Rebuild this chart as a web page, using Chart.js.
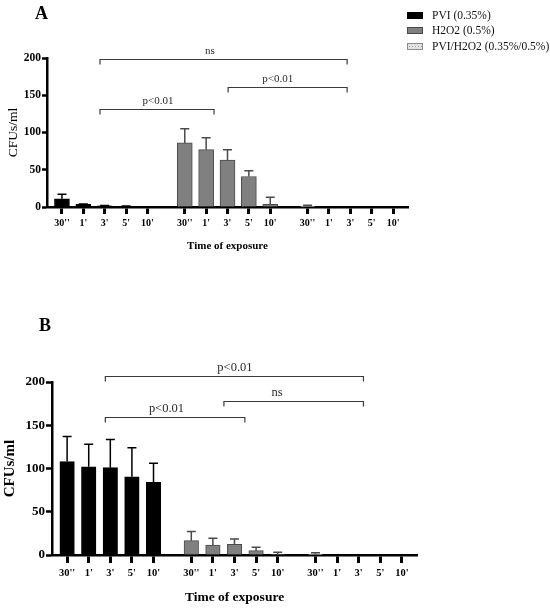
<!DOCTYPE html>
<html>
<head>
<meta charset="utf-8">
<script src="https://cdn.jsdelivr.net/npm/chart.js@4.4.1/dist/chart.umd.min.js"></script>
<style>
  html, body { margin: 0; padding: 0; background: #fff; }
  #wrap { position: relative; width: 550px; height: 611px; font-family: 'Liberation Serif', serif; }
  .panel { position: absolute; left: 0; width: 550px; }
  #boxA { top: 0; height: 260px; }
  #boxB { top: 300px; height: 311px; }
  .tag { position: absolute; font-weight: bold; font-size: 18px; line-height: 20px; }
</style>
</head>
<body>
<div id="wrap">
  <div class="panel" id="boxA"><canvas id="chartA" width="550" height="260"></canvas></div>
  <div class="panel" id="boxB"><canvas id="chartB" width="550" height="311"></canvas></div>
  <div class="tag" style="left:35px; top:3px">A</div>
  <div class="tag" style="left:39px; top:315px">B</div>
</div>
<script>
// categories
const timeLabels = ["30''", "1'", "3'", "5'", "10'"];
const seriesNames = ['PVI (0.35%)', 'H2O2 (0.5%)', 'PVI/H2O2 (0.35%/0.5%)'];

// panel A values (mean and upper SD)
const pviA = [11, 3.5, 1.5, 1, 0.3];
const pviSdA = [6, 0.5, 0.5, 0.5, 0];
const h2o2A = [86, 77, 63, 41, 3.5];
const h2o2SdA = [19, 16, 14, 7.5, 9.5];
const comboA = [0.8, 0, 0, 0, 0];
const comboSdA = [1.5, 0, 0, 0, 0];

// panel B values
const pviB = [108, 102, 101, 90.5, 84];
const pviSdB = [29, 26, 32.5, 33.5, 22];
const h2o2B = [16.6, 11.6, 12.3, 5, 0.5];
const h2o2SdB = [10.5, 7.7, 6.2, 3.9, 2.6];
const comboB = [1, 0, 0, 0, 0];
const comboSdB = [1.5, 0, 0, 0, 0];

// significance brackets, in x-axis units (bar index) and y values
const bracketFromA = [1.78, 7.78, 1.78];
const bracketToA = [13.35, 13.35, 7.12];
const bracketLevelA = [198, 161, 131];
const bracketTextA = ['ns', 'p<0.01', 'p<0.01'];
const bracketTextXA = [6.93, 10.1, 4.5];

const bracketFromB = [1.77, 7.26, 1.77];
const bracketToB = [13.72, 13.72, 8.23];
const bracketLevelB = [207, 178, 160];
const bracketTextB = ['p<0.01', 'ns', 'p<0.01'];
const bracketTextXB = [7.77, 9.72, 4.6];

const groupStep = 5.75;
const barPos = (g, i) => g * groupStep + i;
const tickPos = [0, 1, 2].flatMap(g => timeLabels.map((_, i) => barPos(g, i)));

const FONT = "'Liberation Serif', serif";

function dotPattern() {
  const c = document.createElement('canvas');
  c.width = 3; c.height = 3;
  const p = c.getContext('2d');
  p.fillStyle = '#e2e2e2';
  p.fillRect(0, 0, 3, 3);
  p.fillStyle = '#a6a6a6';
  p.fillRect(1, 1, 1, 1);
  return p.createPattern(c, 'repeat');
}

const errorBars = {
  id: 'errorBars',
  afterDatasetsDraw(chart) {
    const { ctx, scales: { y } } = chart;
    chart.data.datasets.forEach((ds, di) => {
      chart.getDatasetMeta(di).data.forEach((bar, i) => {
        const sd = ds.sd[i];
        if (!sd) return;
        const top = y.getPixelForValue(ds.data[i].y + sd);
        ctx.save();
        ctx.strokeStyle = ds.errColor;
        ctx.lineWidth = 1.5;
        ctx.beginPath();
        ctx.moveTo(bar.x, bar.y);
        ctx.lineTo(bar.x, top);
        ctx.moveTo(bar.x - 4.5, top);
        ctx.lineTo(bar.x + 4.5, top);
        ctx.stroke();
        ctx.restore();
      });
    });
  }
};

function bracketPlugin(from, to, level, text, textX, fontSize) {
  return {
    id: 'brackets',
    afterDraw(chart) {
      const { ctx, scales: { x, y } } = chart;
      ctx.save();
      ctx.strokeStyle = '#3a3a3a';
      ctx.fillStyle = '#2a2a2a';
      ctx.lineWidth = 1.2;
      ctx.font = fontSize + 'px ' + FONT;
      ctx.textAlign = 'center';
      ctx.textBaseline = 'alphabetic';
      from.forEach((f, i) => {
        const x1 = x.getPixelForValue(f);
        const x2 = x.getPixelForValue(to[i]);
        const yy = Math.round(y.getPixelForValue(level[i])) + 0.5;
        ctx.beginPath();
        ctx.moveTo(x1, yy + 5);
        ctx.lineTo(x1, yy);
        ctx.lineTo(x2, yy);
        ctx.lineTo(x2, yy + 5);
        ctx.stroke();
        ctx.fillText(text[i], x.getPixelForValue(textX[i]), yy - 6);
      });
      ctx.restore();
    }
  };
}

const sideLegend = {
  id: 'sideLegend',
  afterDraw(chart) {
    const { ctx } = chart;
    const rows = [15, 30, 46];
    ctx.save();
    ctx.font = '11.5px ' + FONT;
    ctx.textBaseline = 'middle';
    chart.data.datasets.forEach((ds, i) => {
      ctx.fillStyle = ds.backgroundColor;
      ctx.fillRect(407, rows[i] - 3, 16, 7);
      ctx.strokeStyle = ds.borderColor;
      ctx.lineWidth = 1;
      ctx.strokeRect(407.5, rows[i] - 2.5, 15, 6);
      ctx.fillStyle = '#111';
      ctx.fillText(ds.label, 432, rows[i] + 1);
    });
    ctx.restore();
  }
};

function makeChart(id, v, look, plugins) {
  const pts = (g, arr) => arr.map((val, i) => ({ x: barPos(g, i), y: val }));
  const datasets = [
    { label: seriesNames[0], data: pts(0, v.pvi), sd: v.pviSd, backgroundColor: '#000', borderColor: '#000', errColor: '#000' },
    { label: seriesNames[1], data: pts(1, v.h2o2), sd: v.h2o2Sd, backgroundColor: '#808080', borderColor: '#4a4a4a', errColor: '#4a4a4a' },
    { label: seriesNames[2], data: pts(2, v.combo), sd: v.comboSd, backgroundColor: dotPattern(), borderColor: '#8c8c8c', errColor: '#4a4a4a' }
  ];
  datasets.forEach(ds => { ds.borderWidth = 1; ds.barThickness = look.barThickness; ds.grouped = false; });

  return new Chart(document.getElementById(id), {
    type: 'bar',
    data: { datasets },
    options: {
      responsive: false,
      animation: false,
      layout: { padding: { top: look.top, right: look.right, left: 0, bottom: 0 } },
      plugins: { legend: { display: false }, tooltip: { enabled: false } },
      scales: {
        x: {
          type: 'linear',
          min: -0.7,
          max: 16.2,
          offset: false,
          afterBuildTicks: s => { s.ticks = tickPos.map(p => ({ value: p })); },
          afterFit: s => { s.height = look.xHeight; },
          grid: { display: true, offset: false, drawOnChartArea: false, drawTicks: true, tickLength: look.xTick, tickWidth: 3, color: '#000' },
          border: { display: true, color: '#000', width: 2.5 },
          ticks: {
            autoSkip: false, maxRotation: 0, padding: look.xPad, color: '#000',
            font: { family: FONT, size: look.xFont, weight: 'bold' },
            callback: (val, idx) => timeLabels[idx % timeLabels.length]
          },
          title: {
            display: true, text: 'Time of exposure', color: '#000',
            font: { family: FONT, size: look.xTitleSize, weight: 'bold' },
            padding: { top: 0, bottom: look.xTitlePad }
          }
        },
        y: {
          min: 0,
          max: 200,
          afterFit: s => { s.width = look.yWidth; },
          grid: { display: true, drawOnChartArea: false, drawTicks: true, tickLength: look.yTick, tickWidth: 2.5, color: '#000' },
          border: { display: true, color: '#000', width: 2.5 },
          ticks: {
            stepSize: 50, padding: 1, color: '#000',
            font: { family: FONT, size: look.yFont, weight: 'bold' }
          },
          title: {
            display: true, text: 'CFUs/ml', color: '#000',
            font: { family: FONT, size: look.yTitleSize, weight: look.yTitleWeight },
            padding: { top: look.yTitlePad, bottom: 0 }
          }
        }
      }
    },
    plugins: plugins
  });
}

makeChart('chartA',
  { pvi: pviA, pviSd: pviSdA, h2o2: h2o2A, h2o2Sd: h2o2SdA, combo: comboA, comboSd: comboSdA },
  { top: 58, right: 142, yWidth: 47, xHeight: 53, barThickness: 15, xTick: 7, yTick: 5,
    xFont: 10, yFont: 11.5, xPad: 3, xTitleSize: 11, xTitlePad: 7, yTitleSize: 13.5, yTitleWeight: 'normal', yTitlePad: 5 },
  [errorBars, bracketPlugin(bracketFromA, bracketToA, bracketLevelA, bracketTextA, bracketTextXA, 11), sideLegend]);

makeChart('chartB',
  { pvi: pviB, pviSd: pviSdB, h2o2: h2o2B, h2o2Sd: h2o2SdB, combo: comboB, comboSd: comboSdB },
  { top: 82, right: 133, yWidth: 52, xHeight: 56, barThickness: 14.5, xTick: 8, yTick: 6,
    xFont: 10.5, yFont: 13, xPad: 4, xTitleSize: 13.5, xTitlePad: 5, yTitleSize: 15, yTitleWeight: 'bold', yTitlePad: 1 },
  [errorBars, bracketPlugin(bracketFromB, bracketToB, bracketLevelB, bracketTextB, bracketTextXB, 12.5)]);
</script>
</body>
</html>
